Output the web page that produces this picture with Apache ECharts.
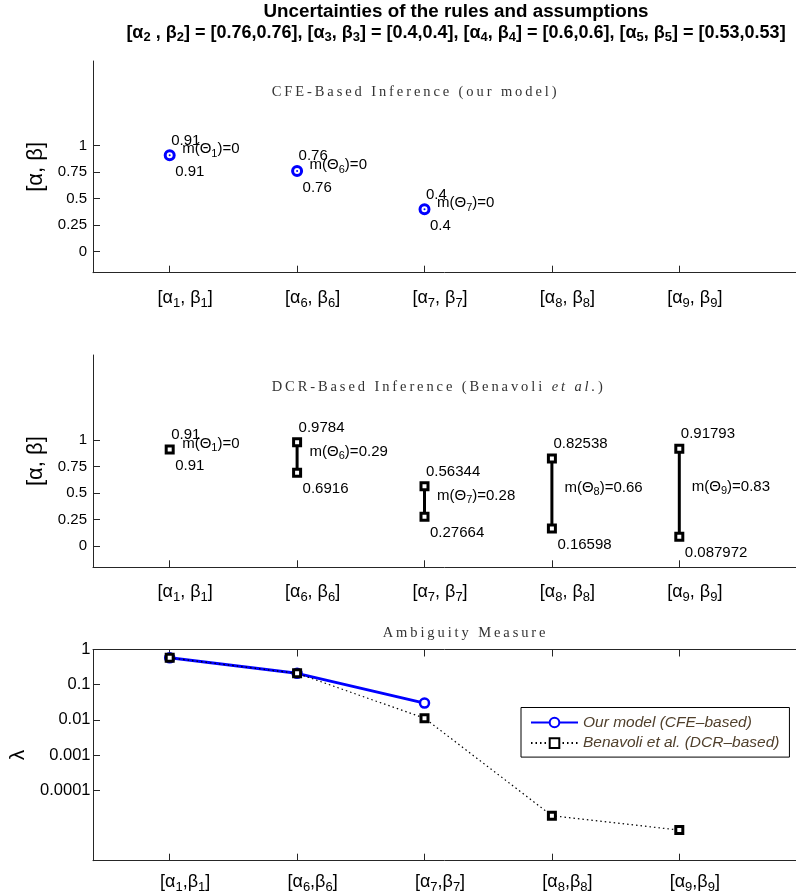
<!DOCTYPE html>
<html>
<head>
<meta charset="utf-8">
<title>Uncertainties of the rules and assumptions</title>
<script src="https://cdn.jsdelivr.net/npm/echarts@6/dist/echarts.min.js"></script>
<style>
  html, body { margin: 0; padding: 0; background: #fff; }
  #chart { width: 796px; height: 895px; }
</style>
</head>
<body>
<div id="chart"></div>
<script>
// Rule indices shown on the x axes
const categoryIds = ['1', '6', '7', '8', '9'];

// Rule/assumption uncertainties listed in the heading
const ruleIds = ['2', '3', '4', '5'];
const ruleAlpha = [0.76, 0.4, 0.6, 0.53];
const ruleBeta = [0.76, 0.4, 0.6, 0.53];

// CFE-based inference intervals [alpha, beta] and masses
const cfeLower = [0.91, 0.76, 0.4];
const cfeUpper = [0.91, 0.76, 0.4];
const cfeMass = ['0', '0', '0'];

// DCR-based inference intervals [alpha, beta] and masses
const dcrLower = [0.91, 0.6916, 0.27664, 0.16598, 0.087972];
const dcrUpper = [0.91, 0.9784, 0.56344, 0.82538, 0.91793];
const dcrMass = ['0', '0.29', '0.28', '0.66', '0.83'];

// Ambiguity measure lambda
const lambdaCfe = [0.58, 0.21, 0.03];
const lambdaDcr = [0.58, 0.21, 0.0112, 1.9e-5, 7.4e-6];

// Tick values
const intervalTicks = [0, 0.25, 0.5, 0.75, 1];
const lambdaTicks = [1, 0.1, 0.01, 0.001, 0.0001];

const FONT = '"Liberation Sans", Arial, Helvetica, sans-serif';
const SERIF = '"Liberation Serif", "DejaVu Serif", serif';
const AXIS_COLOR = '#262626';
const BLUE = '#0000ff';

const X_MIN = 0.398, X_MAX = 5.916;

function spaced(s) {
  return s.split('').join('\u2009');
}

function catLabel(value, sep) {
  const id = categoryIds[Math.round(value) - 1];
  return '{b|[α}{s|' + id + '}{b|' + sep + 'β}{s|' + id + '}{b|]}';
}

const catRich = {
  b: { fontSize: 18, lineHeight: 24, fontFamily: FONT, color: '#000' },
  s: { fontSize: 13, lineHeight: 13, verticalAlign: 'bottom', fontFamily: FONT, color: '#000' }
};

function xAxisFor(gridIndex, sep, margin, extra) {
  return Object.assign({
    type: 'value', gridIndex: gridIndex, min: X_MIN, max: X_MAX,
    axisLine: { show: true, onZero: false, lineStyle: { color: AXIS_COLOR, width: 1 } },
    axisTick: { show: true, inside: true, length: 7, customValues: [1, 2, 3, 4, 5], lineStyle: { color: AXIS_COLOR } },
    axisLabel: {
      show: true, margin: margin, customValues: [1, 2, 3, 4, 5],
      padding: [0, 0, 0, 31],
      formatter: v => catLabel(v, sep), rich: catRich
    },
    splitLine: { show: false }
  }, extra || {});
}

function intervalYAxis(gridIndex) {
  return {
    type: 'value', gridIndex: gridIndex, min: -0.2, max: 1.8,
    name: '[α, β]', nameLocation: 'middle', nameRotate: 90, nameGap: 44,
    nameTextStyle: { fontSize: 22, fontFamily: FONT, color: '#000' },
    axisLine: { show: true, onZero: false, lineStyle: { color: AXIS_COLOR, width: 1 } },
    axisTick: { show: true, inside: true, length: 7, customValues: intervalTicks, lineStyle: { color: AXIS_COLOR } },
    axisLabel: { show: true, margin: 6, customValues: intervalTicks, fontSize: 15, fontFamily: FONT, color: '#000', formatter: v => String(v) },
    splitLine: { show: false }
  };
}

const textFont = '15px ' + FONT;

function markerEl(kind, p) {
  if (kind === 'circle') {
    return [
      { type: 'circle', shape: { cx: p[0], cy: p[1], r: 4.5 }, style: { fill: '#fff', stroke: BLUE, lineWidth: 3 } },
      { type: 'circle', shape: { cx: p[0], cy: p[1], r: 1 }, style: { fill: BLUE } }
    ];
  }
  return [
    { type: 'rect', shape: { x: p[0] - 3.5, y: p[1] - 3.5, width: 7, height: 7 }, style: { fill: '#fff', stroke: '#000', lineWidth: 3 } }
  ];
}

function intervalRenderer(kind, masses) {
  return function (params, api) {
    const i = params.dataIndex;
    const x = api.value(0), lo = api.value(1), hi = api.value(2);
    const pHi = api.coord([x, hi]);
    const pLo = api.coord([x, lo]);
    const children = [];
    if (hi !== lo) {
      children.push({ type: 'line', shape: { x1: pHi[0], y1: pHi[1], x2: pLo[0], y2: pLo[1] }, style: { stroke: '#000', lineWidth: 3 } });
    }
    const pts = hi === lo ? [pHi] : [pHi, pLo];
    pts.forEach(p => markerEl(kind, p).forEach(el => children.push(el)));
    const id = categoryIds[Math.round(x) - 1];
    children.push({ type: 'text', x: pHi[0] + 1.5, y: pHi[1] - 14.8,
      style: { text: String(hi), font: textFont, fill: '#000', align: 'left', verticalAlign: 'middle' } });
    children.push({ type: 'text', x: pLo[0] + 5.5, y: pLo[1] + 16.5,
      style: { text: String(lo), font: textFont, fill: '#000', align: 'left', verticalAlign: 'middle' } });
    children.push({ type: 'text', x: pHi[0] + 12.5, y: (pHi[1] + pLo[1]) / 2 - 6,
      style: {
        text: '{a|m(Θ}{s|' + id + '}{a|)=' + masses[i] + '}',
        align: 'left', verticalAlign: 'middle',
        rich: {
          a: { fontSize: 15, lineHeight: 20, fontFamily: FONT, fill: '#000' },
          s: { fontSize: 11, lineHeight: 11, verticalAlign: 'bottom', fontFamily: FONT, fill: '#000' }
        }
      } });
    return { type: 'group', children: children };
  };
}

// Heading, second line with subscripted rule symbols
let heading2 = '';
ruleIds.forEach((id, i) => {
  if (i > 0) heading2 += '{b|, }';
  heading2 += '{b|[α}{s|' + id + '}{b|' + (i === 0 ? ' , ' : ', ') + 'β}{s|' + id + '}{b|] = [' + ruleAlpha[i] + ',' + ruleBeta[i] + ']}';
});

const subFont = '14.5px ' + SERIF;

const chart = echarts.init(document.getElementById('chart'), null, { renderer: 'canvas' });

chart.setOption({
  backgroundColor: '#fff',
  animation: false,
  grid: [
    { left: 93, top: 61, width: 703, height: 211.7 },
    { left: 93, top: 355, width: 703, height: 212.3 },
    { left: 93, top: 649.5, width: 703, height: 211.2 }
  ],
  xAxis: [
    xAxisFor(0, ', ', 13),
    xAxisFor(1, ', ', 13),
    xAxisFor(2, ',', 9),
    xAxisFor(2, ',', 9, { position: 'top', axisLabel: { show: false, customValues: [1, 2, 3, 4, 5] } })
  ],
  yAxis: [
    intervalYAxis(0),
    intervalYAxis(1),
    {
      type: 'log', gridIndex: 2, min: 1e-6, max: 1, logBase: 10,
      name: 'λ', nameLocation: 'middle', nameRotate: 90, nameGap: 59,
      nameTextStyle: { fontSize: 21, fontFamily: FONT, color: '#000' },
      axisLine: { show: true, onZero: false, lineStyle: { color: AXIS_COLOR, width: 1 } },
      axisTick: { show: true, inside: true, length: 7, customValues: lambdaTicks, lineStyle: { color: AXIS_COLOR } },
      minorTick: { show: false },
      axisLabel: {
        show: true, margin: 2.5, fontSize: 16.5, fontFamily: FONT, color: '#000',
        customValues: lambdaTicks,
        formatter: v => String(Number(v.toPrecision(1)))
      },
      splitLine: { show: false }
    }
  ],
  legend: {
    orient: 'vertical', left: 521, top: 707.5,
    padding: [6, 10, 5, 9], itemGap: 2.6, itemWidth: 47, itemHeight: 12,
    backgroundColor: '#fff', borderColor: '#000', borderWidth: 1, borderRadius: 0,
    textStyle: { fontSize: 15.5, fontStyle: 'italic', fontFamily: FONT, color: '#50402c', lineHeight: 18 },
    data: ['Our model (CFE–based)', 'Benavoli et al. (DCR–based)']
  },
  graphic: [
    { type: 'text', x: 456, y: 12, style: { text: 'Uncertainties of the rules and assumptions', font: 'bold 18.8px ' + FONT, fill: '#000', align: 'center', verticalAlign: 'middle' } },
    { type: 'text', x: 456, y: 33, style: {
        text: heading2, align: 'center', verticalAlign: 'middle',
        rich: {
          b: { fontSize: 18, fontWeight: 'bold', lineHeight: 22, fontFamily: FONT, fill: '#000' },
          s: { fontSize: 13, fontWeight: 'bold', lineHeight: 13, verticalAlign: 'bottom', fontFamily: FONT, fill: '#000' }
        } } },
    { type: 'text', x: 271.7, y: 92.3, style: { text: spaced('CFE-Based Inference (our model)'), font: subFont, fill: '#333', align: 'left', verticalAlign: 'middle' } },
    { type: 'text', x: 271.7, y: 386.7, style: {
        text: '{r|' + spaced('DCR-Based Inference (Benavoli') + '\u2009 \u2009}{i|' + spaced('et al.') + '}{r|\u2009)}',
        align: 'left', verticalAlign: 'middle',
        rich: {
          r: { fontSize: 14.5, fontFamily: SERIF, fill: '#333' },
          i: { fontSize: 14.5, fontStyle: 'italic', fontFamily: SERIF, fill: '#333' }
        } } },
    { type: 'text', x: 382.7, y: 633.3, style: { text: spaced('Ambiguity Measure'), font: subFont, fill: '#333', align: 'left', verticalAlign: 'middle' } }
  ],
  series: [
    {
      name: 'CFE intervals', type: 'custom', xAxisIndex: 0, yAxisIndex: 0,
      renderItem: intervalRenderer('circle', cfeMass),
      encode: { x: 0, y: [1, 2] },
      data: cfeLower.map((lo, i) => [i + 1, lo, cfeUpper[i]]),
      clip: false
    },
    {
      name: 'DCR intervals', type: 'custom', xAxisIndex: 1, yAxisIndex: 1,
      renderItem: intervalRenderer('square', dcrMass),
      encode: { x: 0, y: [1, 2] },
      data: dcrLower.map((lo, i) => [i + 1, lo, dcrUpper[i]]),
      clip: false
    },
    {
      name: 'Our model (CFE–based)', type: 'line', xAxisIndex: 2, yAxisIndex: 2,
      data: lambdaCfe.map((v, i) => [i + 1, v]),
      symbol: 'circle', symbolSize: 9, showAllSymbol: true,
      lineStyle: { color: BLUE, width: 3 },
      itemStyle: { color: '#fff', borderColor: BLUE, borderWidth: 2.5 },
      z: 2
    },
    {
      name: 'Benavoli et al. (DCR–based)', type: 'line', xAxisIndex: 2, yAxisIndex: 2,
      data: lambdaDcr.map((v, i) => [i + 1, v]),
      symbol: 'rect', symbolSize: 7, showAllSymbol: true,
      lineStyle: { color: '#000', width: 1.2, type: [1.5, 3] },
      itemStyle: { color: '#fff', borderColor: '#000', borderWidth: 3 },
      z: 3
    }
  ]
});
</script>
</body>
</html>
